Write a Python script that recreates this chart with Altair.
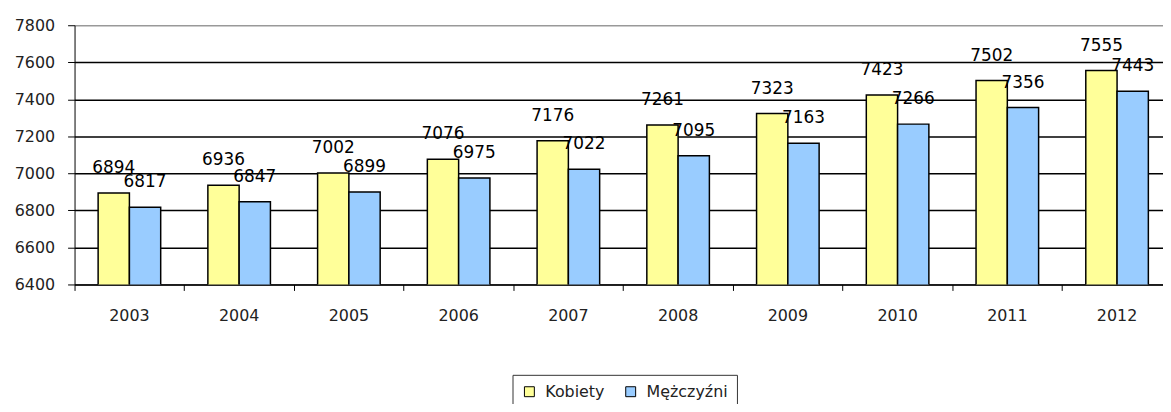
import altair as alt
import pandas as pd

years = ["2003", "2004", "2005", "2006", "2007", "2008", "2009", "2010", "2011", "2012"]
kobiety = [6894, 6936, 7002, 7076, 7176, 7261, 7323, 7423, 7502, 7555]
mezczyzni = [6817, 6847, 6899, 6975, 7022, 7095, 7163, 7266, 7356, 7443]
series = ["Kobiety", "Mężczyźni"]
colors = ["#FFFF99", "#99CCFF"]
y_ticks = [6400, 6600, 6800, 7000, 7200, 7400, 7600, 7800]

rows = []
for i, y in enumerate(years):
    rows.append({"year": y, "series": series[0], "value": kobiety[i]})
    rows.append({"year": y, "series": series[1], "value": mezczyzni[i]})
df = pd.DataFrame(rows)

FONT = "DejaVu Sans"

base = alt.Chart(df).encode(
    x=alt.X(
        "year:N",
        sort=years,
        scale=alt.Scale(range=[0, 1105], paddingInner=0, paddingOuter=0),
        axis=alt.Axis(
            title=None,
            bandPosition=0,
            labelOffset=0,
            labelAngle=0,
            tickSize=6,
            tickColor="black",
            domainColor="black",
            labelFont=FONT,
            labelFontSize=16,
            labelColor="#222222",
            labelPadding=17,
            grid=False,
        ),
    ),
    xOffset=alt.XOffset(
        "series:N", sort=series, scale=alt.Scale(paddingOuter=0.754, paddingInner=0)
    ),
    y=alt.Y(
        "value:Q",
        scale=alt.Scale(domain=[6400, 7800], nice=False, zero=False),
        axis=alt.Axis(
            title=None,
            values=y_ticks,
            format="d",
            grid=True,
            gridColor=alt.condition("datum.value == 7800", alt.value("#999999"), alt.value("black")),
            gridWidth=1.5,
            tickSize=7,
            tickColor="black",
            domainColor="black",
            labelFont=FONT,
            labelFontSize=16,
            labelColor="#222222",
            labelPadding=13,
        ),
    ),
)

bars = base.mark_bar(stroke="black", strokeWidth=1.5, clip=True).encode(
    color=alt.Color(
        "series:N",
        sort=series,
        scale=alt.Scale(domain=series, range=colors),
        legend=alt.Legend(
            title=None,
            orient="none",
            legendX=441,
            legendY=352,
            direction="horizontal",
            strokeColor="#333333",
            padding=9,
            symbolType="square",
            symbolSize=100,
            symbolStrokeColor="black",
            symbolStrokeWidth=1,
            symbolOpacity=1,
            labelFont=FONT,
            labelFontSize=16,
            labelColor="#222222",
            labelOffset=8,
            columnPadding=18,
        ),
    )
)

labels = base.mark_text(
    font=FONT, fontSize=17, color="black", baseline="alphabetic", dy=-20
).encode(text=alt.Text("value:Q", format="d"))

chart = (
    alt.layer(bars, labels)
    .properties(
        width=1096,
        height=261,
        autosize="none",
        padding={"left": 67, "top": 16, "right": 0, "bottom": 119},
    )
    .configure_view(stroke=None)
)

chart.save("out.html", embed_options={"renderer": "svg", "actions": False})
